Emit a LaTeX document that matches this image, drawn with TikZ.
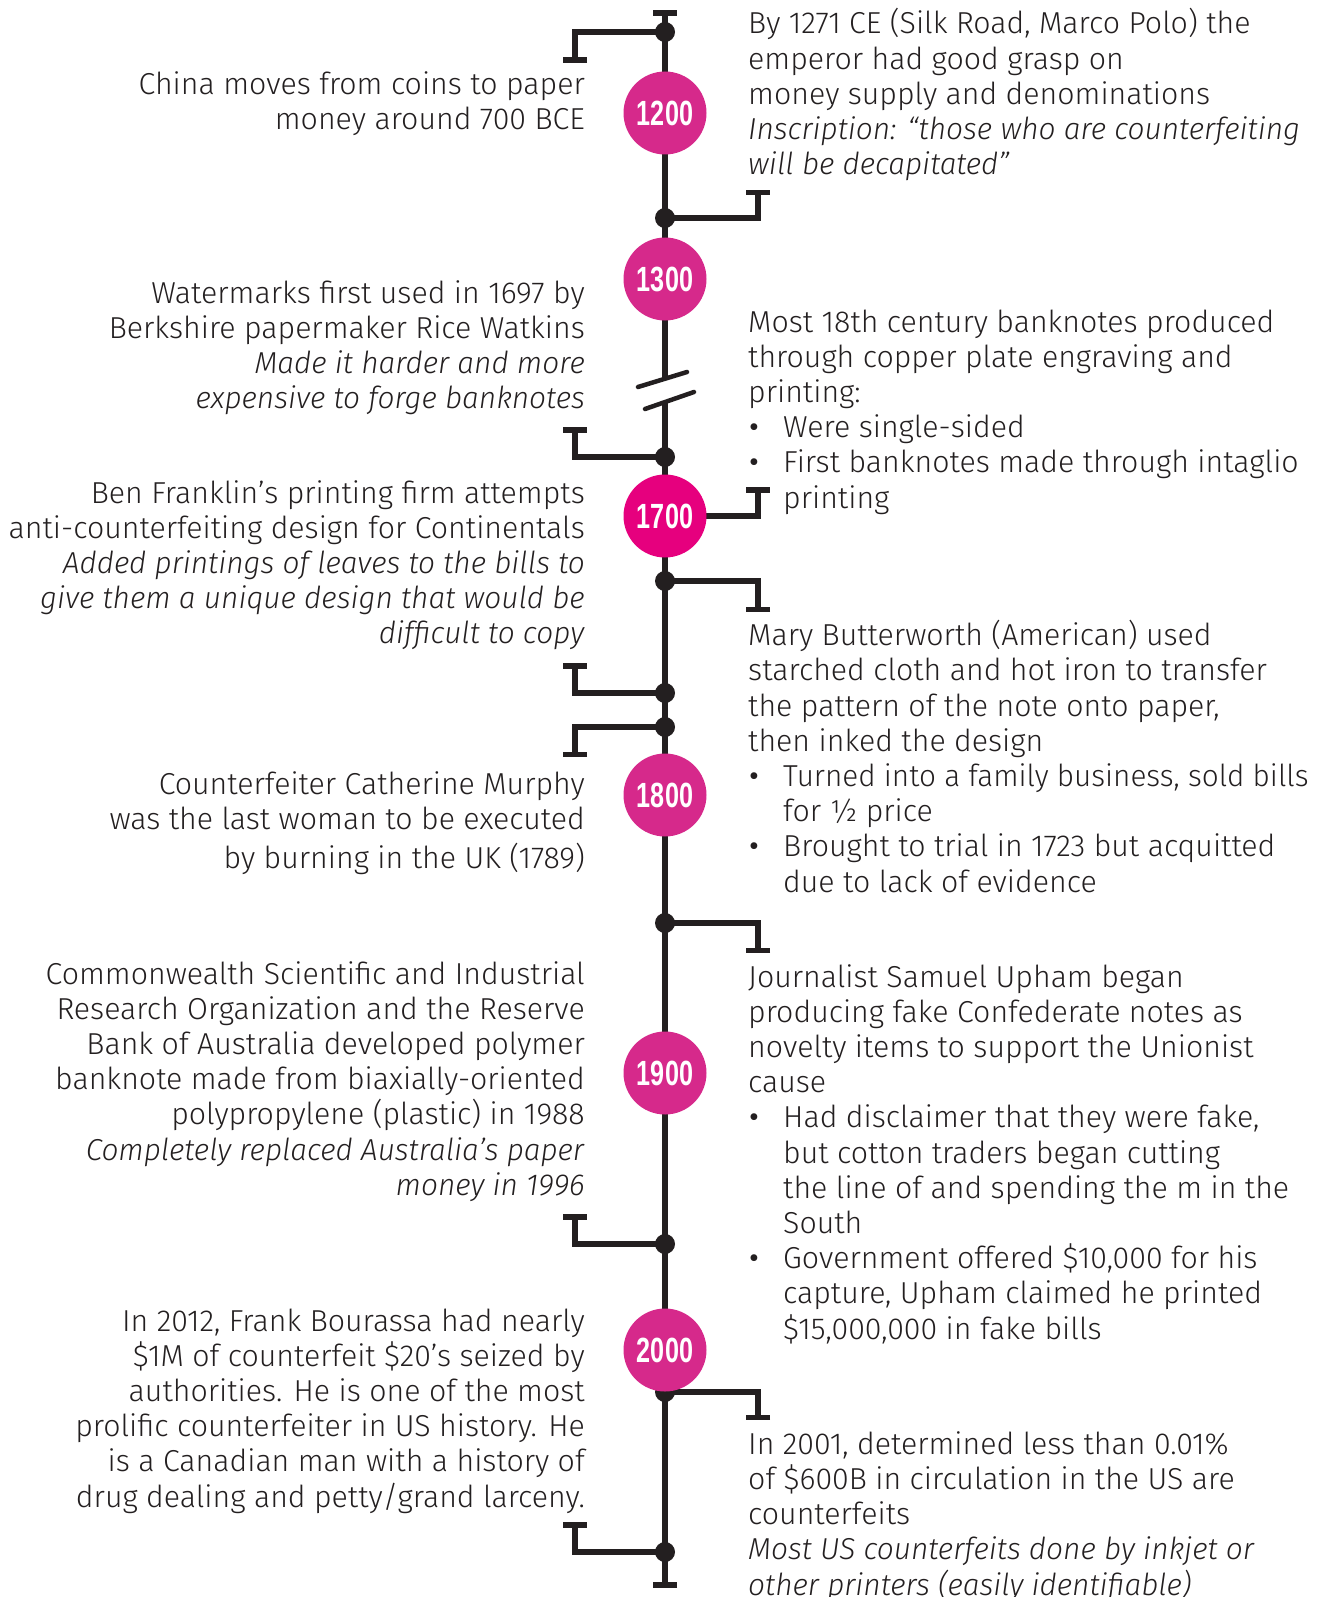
\documentclass[tikz,border=0pt]{standalone}
\usepackage{fontspec}
\setmainfont{Fira Sans Light}[ItalicFont={Fira Sans Light Italic},ItalicFeatures={FakeStretch=0.985}]
\newfontfamily\bulfont{Fira Sans}
\newfontfamily\yearfont[FakeStretch=0.72]{Liberation Sans}
\usetikzlibrary{arrows.meta}
\definecolor{ink}{RGB}{35,31,32}
\definecolor{eramag}{RGB}{214,41,139}
\definecolor{hotmag}{RGB}{230,0,126}
\newcommand{\tlbul}{\makebox[35pt][l]{\hspace{1pt}{\bulfont\textbullet}}}
\newcommand{\tlcont}{\hspace*{35pt}}
\tikzset{
  spine/.style={draw=ink, line width=6pt},
  branch/.style={draw=ink, line width=5.5pt, -{Bar[width=24pt]}},
  dot/.style={circle, fill=ink, inner sep=0pt, minimum size=20pt},
  year/.style={circle, fill=eramag, inner sep=0pt, minimum size=83pt, text=white,
    font={\yearfont\bfseries\fontsize{35}{35}\selectfont}},
  slash/.style={draw=ink, line width=4.5pt, line cap=round},
  % the base anchor sits on the last line
  lefttext/.style={anchor=base east, align=right, text=ink, inner sep=0pt,
    font={\fontsize{30.3}{35.2}\selectfont}},
  righttext/.style={anchor=base west, align=left, text=ink, inner sep=0pt,
    font={\fontsize{30.3}{35.2}\selectfont}}
}
\begin{document}
\begin{tikzpicture}[x=1pt,y=-1pt]
  \useasboundingbox (0,0) rectangle (1318,1597);
  % spine with the break
  \coordinate (top) at (665,10);
  \coordinate (brk1) at (665,379);
  \coordinate (brk2) at (665,402);
  \coordinate (bot) at (665,1588);
  \draw[spine, {Bar[width=24pt]}-] (top) -- (brk1);
  \draw[spine, -{Bar[width=24pt]}] (brk2) -- (bot);
  \draw[slash] (638,387) -- (687,372);
  \draw[slash] (645,409) -- (694,392);

  % branch ends
  \coordinate (t1) at (575,63);
  \coordinate (t2) at (758,190);
  \coordinate (t3) at (575,427);
  \coordinate (t4) at (758,487);
  \coordinate (t5) at (758,612);
  \coordinate (t6) at (575,663);
  \coordinate (t7) at (575,757);
  \coordinate (t8) at (758,953);
  \coordinate (t9) at (575,1214);
  \coordinate (t10) at (758,1420);
  \coordinate (t11) at (575,1522);

  % dots on the spine
  \node[dot] (d1) at (665,32) {};
  \node[dot] (d2) at (665,218) {};
  \node[dot] (d3) at (665,457) {};
  \node[dot] (d5) at (665,581) {};
  \node[dot] (d6) at (665,693) {};
  \node[dot] (d7) at (665,727) {};
  \node[dot] (d8) at (665,923) {};
  \node[dot] (d9) at (665,1244) {};
  \node[dot] (d10) at (665,1392) {};
  \node[dot] (d11) at (665,1552) {};
  \coordinate (d4) at (665,516);

  \draw[branch] (d1.center) -| (t1);
  \draw[branch] (d2.center) -| (t2);
  \draw[branch] (d3.center) -| (t3);
  \draw[branch] (d4) -| (t4);
  \draw[branch] (d5.center) -| (t5);
  \draw[branch] (d6.center) -| (t6);
  \draw[branch] (d7.center) -| (t7);
  \draw[branch] (d8.center) -| (t8);
  \draw[branch] (d9.center) -| (t9);
  \draw[branch] (d10.center) -| (t10);
  \draw[branch] (d11.center) -| (t11);

  % years
  \node[year] (y1200) at (665,113) {1200};
  \node[year] (y1300) at (665,279) {1300};
  \node[year, fill=hotmag] (y1700) at (d4) {1700};
  \node[year] (y1800) at (665,795) {1800};
  \node[year] (y1900) at (665,1073) {1900};
  \node[year] (y2000) at (665,1350) {2000};

  % left texts
  \node[lefttext] (china) at (585,130) {China moves from coins to paper\\money around 700 BCE};
  \node[lefttext] (watermarks) at (585,408.6) {Watermarks first used in 1697 by\\Berkshire papermaker Rice Watkins\\\textit{Made it harder and more}\\\textit{expensive to forge banknotes}};
  \node[lefttext] (franklin) at (585,643.8) {Ben Franklin’s printing firm attempts\\anti-counterfeiting design for Continentals\\\textit{Added printings of leaves to the bills to}\\\textit{give them a unique design that would be}\\\textit{difficult to copy}};
  \node[lefttext] (murphy) at (585,868) {Counterfeiter Catherine Murphy\\was the last woman to be executed\\[3pt]by burning in the UK (1789)};
  \node[lefttext] (polymer) at (585,1195.2) {Commonwealth Scientific and Industrial\\Research Organization and the Reserve\\Bank of Australia developed polymer\\banknote made from biaxially-oriented\\polypropylene (plastic) in 1988\\\textit{Completely replaced Australia’s paper}\\\textit{money in 1996}};
  \node[lefttext] (bourassa) at (585,1507) {In 2012, Frank Bourassa had nearly\\\$1M of counterfeit \$20’s seized by\\authorities. He is one of the most\\prolific counterfeiter in US history. He\\is a Canadian man with a history of\\drug dealing and petty/grand larceny.};

  % right texts
  \node[righttext] (polo) at (748,174.8) {By 1271 CE (Silk Road, Marco Polo) the\\emperor had good grasp on\\money supply and denominations\\\textit{Inscription: “those who are counterfeiting}\\\textit{will be decapitated”}};
  \node[righttext] (copper) at (748,508) {Most 18th century banknotes produced\\through copper plate engraving and\\printing:\\\tlbul Were single-sided\\\tlbul First banknotes made through intaglio\\\tlcont printing};
  \node[righttext] (butterworth) at (748,892) {Mary Butterworth (American) used\\starched cloth and hot iron to transfer\\the pattern of the note onto paper,\\then inked the design\\\tlbul \scalebox{0.98}[1]{Turned into a family business, sold bills}\\\tlcont for ½ price\\\tlbul Brought to trial in 1723 but acquitted\\\tlcont due to lack of evidence};
  \node[righttext] (upham) at (748,1339) {Journalist Samuel Upham began\\producing fake Confederate notes as\\novelty items to support the Unionist\\cause\\\tlbul Had disclaimer that they were fake,\\\tlcont but cotton traders began cutting\\\tlcont the line of and spending the m in the\\\tlcont South\\\tlbul Government offered \$10,000 for his\\\tlcont capture, Upham claimed he printed\\\tlcont \$15,000,000 in fake bills};
  \node[righttext] (inkjet) at (748,1595) {In 2001, determined less than 0.01\%\\of \$600B in circulation in the US are\\counterfeits\\\textit{Most US counterfeits done by inkjet or}\\\textit{other printers (easily identifiable)}};
\end{tikzpicture}
\end{document}
